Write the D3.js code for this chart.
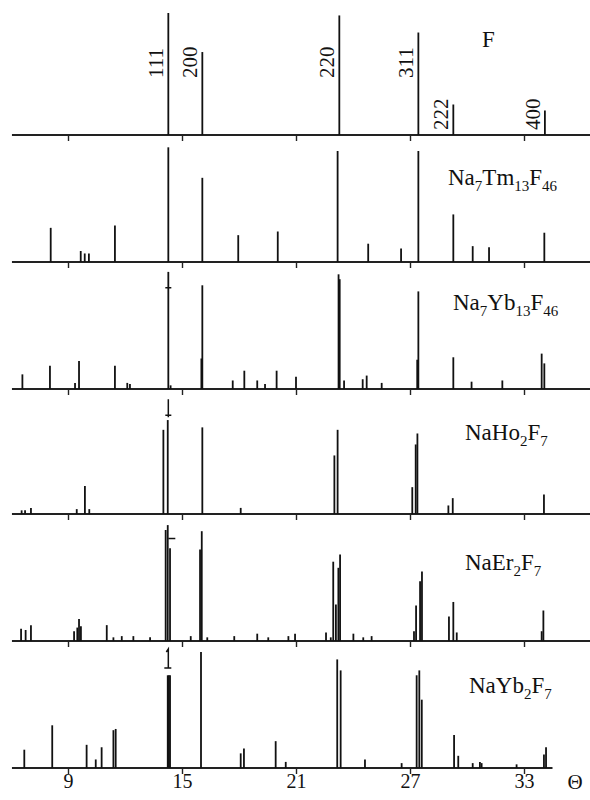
<!DOCTYPE html>
<html>
<head>
<meta charset="utf-8">
<script src="https://cdn.jsdelivr.net/npm/d3@7"></script>
<style>
  body { margin: 0; background: #fff; }
  text { font-family: "Liberation Serif", "DejaVu Serif", serif; fill: #111; }
</style>
</head>
<body>
<div id="chart"></div>
<script>
// peak positions (theta, deg) and relative intensities
const peaksF    = [[14.28,100],[16.07,68],[23.28,98],[27.44,84],[29.28,25],[34.10,20]];
const hklLabels = ["111","200","220","311","222","400"];
const peaksTm   = [[8.09,28],[9.67,9],[9.88,7],[10.10,7],[11.47,30],[14.28,94],[16.07,69],[17.96,22],
                   [20.04,25],[23.19,91],[24.80,15],[26.53,11],[27.44,91],[29.28,39],[30.30,13],[31.16,12],[34.07,24]];
const peaksYb13 = [[6.60,12],[8.05,19],[9.37,5],[9.58,23],[11.47,19],[12.12,5],[12.26,4],[14.28,96],[14.40,3],
                   [16.02,25],[16.07,85],[17.67,7],[18.28,15],[18.96,7],[19.37,4],[19.98,15],[21.00,10],
                   [23.24,94],[23.30,90],[23.53,7],[24.51,8],[24.72,11],[25.51,5],[27.38,24],[27.44,80],
                   [29.28,26],[30.24,6],[31.86,7],[33.93,29],[34.07,21]];
const peaksHo   = [[6.56,3],[6.74,3],[7.05,5],[9.46,4],[9.89,23],[10.12,4],[14.02,69],[14.25,77],[16.07,71],
                   [18.09,5],[23.02,48],[23.19,69],[27.12,22],[27.30,57],[27.39,66],[29.02,7],[29.25,13],[34.05,16]];
const peaksEr   = [[6.53,10],[6.77,9],[7.05,13],[9.32,8],[9.49,11],[9.58,18],[9.68,12],[11.04,13],[11.39,3],
                   [11.83,4],[12.44,4],[13.32,3],[14.14,91],[14.25,95],[14.37,76],[15.46,4],[15.95,75],[16.04,90],
                   [16.33,3],[17.75,4],[18.96,6],[19.54,3],[20.60,4],[20.95,6],[22.58,7],[22.83,3],[22.96,65],
                   [23.10,30],[23.23,60],[23.32,71],[24.02,6],[24.54,3],[24.98,4],[27.21,8],[27.32,29],[27.53,49],
                   [27.63,57],[29.05,20],[29.28,32],[29.46,7],[33.93,8],[34.02,25]];
const peaksYb2  = [[6.70,15],[8.17,35],[9.98,19],[10.46,7],[10.77,17],[11.39,31],[11.51,32],[14.25,76],[14.31,76],
                   [14.37,76],[16.00,95],[18.09,12],[18.26,16],[19.93,22],[20.46,5],[23.17,89],[23.35,80],[24.63,7],
                   [26.56,4],[27.35,76],[27.49,80],[27.62,56],[29.32,27],[29.54,10],[30.30,4],[30.68,5],[30.77,4],
                   [32.61,3],[34.05,11],[34.16,17]];
const tickValues = [9, 15, 21, 27, 33];

const panels = [
    {peaks: peaksF,    name: [["F", 0]],                                          baseline: 135, nameX: 482, nameDy: 88},
    {peaks: peaksTm,   name: [["Na",0],["7",1],["Tm",0],["13",1],["F",0],["46",1]], baseline: 262, nameX: 448, nameDy: 77},
    {peaks: peaksYb13, name: [["Na",0],["7",1],["Yb",0],["13",1],["F",0],["46",1]], baseline: 389, nameX: 453, nameDy: 79},
    {peaks: peaksHo,   name: [["NaHo",0],["2",1],["F",0],["7",1]],                 baseline: 514, nameX: 465, nameDy: 74},
    {peaks: peaksEr,   name: [["NaEr",0],["2",1],["F",0],["7",1]],                 baseline: 641, nameX: 465, nameDy: 71},
    {peaks: peaksYb2,  name: [["NaYb",0],["2",1],["F",0],["7",1]],                 baseline: 768, nameX: 469, nameDy: 75}
];

const width = 590, height = 800;

const svg = d3.select("#chart")
    .append("svg")
    .attr("width", width)
    .attr("height", height);

const x = d3.scaleLinear().domain([9, 33]).range([68, 524]);
const h = d3.scaleLinear().domain([0, 100]).range([0, 122]);

panels.forEach((p, i) => {
    const g = svg.append("g").attr("transform", `translate(0,${p.baseline})`);
    const last = i === panels.length - 1;

    // axis line with downward ticks
    g.append("line")
        .attr("x1", x(6.05)).attr("x2", last ? x(34.5) : width)
        .attr("y1", 0).attr("y2", 0)
        .attr("stroke", "#222").attr("stroke-width", 1.8);

    const axis = g.append("g")
        .call(d3.axisBottom(x).tickValues(tickValues).tickSize(6).tickFormat(last ? d3.format("d") : ""));
    axis.select(".domain").remove();
    axis.selectAll(".tick line").attr("stroke", "#222").attr("stroke-width", 1.4);
    axis.selectAll(".tick text")
        .attr("y", 6)
        .attr("dy", "0.71em")
        .style("font-family", "'Liberation Serif', serif")
        .style("font-size", "20px")
        .attr("fill", "#111");

    // peak sticks
    g.selectAll(".peak")
        .data(p.peaks)
        .enter()
        .append("line")
        .attr("class", "peak")
        .attr("x1", d => x(d[0])).attr("x2", d => x(d[0]))
        .attr("y1", 0).attr("y2", d => -h(d[1]))
        .attr("stroke", "#111")
        .attr("stroke-width", 1.8);

    // compound name with subscripts
    const t = g.append("text")
        .attr("x", p.nameX)
        .attr("y", -p.nameDy)
        .style("font-size", "23px");
    p.name.forEach(([s, sub], k) => {
        const span = t.append("tspan").text(s);
        if (sub) span.style("font-size", "15px").attr("dy", 6);
        else if (k > 0 && p.name[k - 1][1]) span.attr("dy", -6);
    });
});

// hkl labels of the fluorite reference
const gF = svg.append("g").attr("transform", `translate(0,${panels[0].baseline})`);
gF.selectAll(".hkl")
    .data(peaksF)
    .enter()
    .append("text")
    .attr("class", "hkl")
    .attr("transform", (d, i) => `translate(${x(d[0]) - 5},${i < 4 ? -57 : -5}) rotate(-90)`)
    .style("font-size", "21px")
    .text((d, i) => hklLabels[i]);

// small reference marks drawn above the strongest line
const marks = [
    {panel: 2, theta: 14.28, path: (cx, cy) => `M${cx - 3},${cy}H${cx + 3}`, level: 83},
    {panel: 3, theta: 14.28, path: (cx, cy) => `M${cx},${cy - 16}V${cy + 2}M${cx - 3},${cy}H${cx + 3}`, level: 81},
    {panel: 4, theta: 14.28, path: (cx, cy) => `M${cx},${cy}H${cx + 7}`, level: 84},
    {panel: 5, theta: 14.28, path: (cx, cy) => `M${cx - 2},${cy - 16}L${cx},${cy - 19}V${cy}M${cx - 4},${cy}H${cx + 3}`, level: 82}
];
marks.forEach(m => {
    const b = panels[m.panel].baseline;
    svg.append("path")
        .attr("d", m.path(x(m.theta), b - h(m.level)))
        .attr("fill", "none")
        .attr("stroke", "#111")
        .attr("stroke-width", 1.5);
});

svg.append("text")
    .attr("x", 575)
    .attr("y", 789)
    .attr("text-anchor", "middle")
    .style("font-size", "21px")
    .text("Θ");
</script>
</body>
</html>
